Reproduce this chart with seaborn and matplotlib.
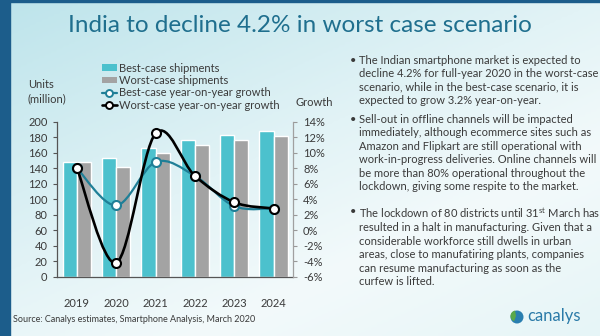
import numpy as np
import pandas as pd
import matplotlib
matplotlib.use("Agg")
import matplotlib.pyplot as plt
import seaborn as sns
from matplotlib.path import Path
from matplotlib.patches import PathPatch, Rectangle, Circle, Patch, Wedge
from matplotlib.lines import Line2D
from matplotlib.colors import LinearSegmentedColormap

# ---------------- data ----------------
years = ["2019", "2020", "2021", "2022", "2023", "2024"]
best_ship = [148, 153, 166, 177, 183, 188]
worst_ship = [148, 142, 159, 170, 177, 182]
best_growth = [8.0, 3.2, 8.8, 7.0, 3.1, 2.8]
worst_growth = [8.0, -4.2, 12.5, 7.0, 3.6, 2.8]
left_ticks = [0, 20, 40, 60, 80, 100, 120, 140, 160, 180, 200]
right_ticks = [-6, -4, -2, 0, 2, 4, 6, 8, 10, 12, 14]
series_names = ["Best-case shipments", "Worst-case shipments",
                "Best-case year-on-year growth", "Worst-case year-on-year growth"]

title = "India to decline 4.2% in worst case scenario"
para1 = ("The Indian smartphone market is expected to\n"
         "decline 4.2% for full-year 2020 in the worst-case\n"
         "scenario, while in the best-case scenario, it is\n"
         "expected to grow 3.2% year-on-year.")
para2 = ("Sell-out in offline channels will be impacted\n"
         "immediately, although ecommerce sites such as\n"
         "Amazon and Flipkart are still operational with\n"
         "work-in-progress deliveries. Online channels will\n"
         "be more than 80% operational throughout the\n"
         "lockdown, giving some respite to the market.")
para3 = ("The lockdown of 80 districts until 31$^{\\mathrm{st}}$ March has\n"
         "resulted in a halt in manufacturing. Given that a\n"
         "considerable workforce still dwells in urban\n"
         "areas, close to manufatiring plants, companies\n"
         "can resume manufacturing as soon as the\n"
         "curfew is lifted.")
source = "Source: Canalys estimates, Smartphone Analysis, March 2020"

# ---------------- style ----------------
sns.set_theme(style="white")
plt.rcParams["font.family"] = ["Lato", "DejaVu Sans"]
plt.rcParams["mathtext.fontset"] = "custom"
plt.rcParams["mathtext.rm"] = "Lato"

BEST_BAR = "#4cc1cd"
WORST_BAR = "#a3a3a3"
BEST_LINE = "#1f7f97"
WORST_LINE = "#000000"
TXT = "#3a3a3a"
TITLE_C = "#1f6f8e"

W, H = 600, 336
fig = plt.figure(figsize=(W / 100, H / 100), dpi=100)

def fx(px):
    return px / W

def fy(py):
    return 1 - py / H

# background gradient
bg = fig.add_axes([0, 0, 1, 1], zorder=-10)
yy, xx = np.mgrid[0:1:120j, 0:1:200j]
t = np.clip(0.55 * yy + 0.45 * xx, 0, 1)
cmap = LinearSegmentedColormap.from_list(
    "bg", [(0, "#bde4eb"), (0.45, "#e2f3f6"), (0.7, "#f3fafb"), (1, "#e6f5f7")])
bg.imshow(t, extent=[0, 1, 0, 1], aspect="auto", cmap=cmap, origin="upper")
bg.set_xlim(0, 1); bg.set_ylim(0, 1)
bg.axis("off")
fig.patches.append(Rectangle((0, 0), fx(10), 1, transform=fig.transFigure,
                             color="#1c5d8b", zorder=5))
fig.patches.append(Rectangle((0, fy(2)), 1, 2 / H, transform=fig.transFigure,
                             color="#1c5d8b", zorder=5))

# ---------------- chart ----------------
ax = fig.add_axes([fx(57.3), fy(276.7), fx(293.3) - fx(57.3), (276.7 - 121.7) / H])
ax.set_facecolor("none")
df = pd.DataFrame({
    "year": years * 2,
    "units": best_ship + worst_ship,
    "scenario": [series_names[0]] * len(years) + [series_names[1]] * len(years),
})
sns.barplot(data=df, x="year", y="units", hue="scenario",
            palette=[BEST_BAR, WORST_BAR], width=0.72, gap=0, saturation=1,
            legend=False, ax=ax, zorder=2)
ax.set_ylim(0, 200)
ax.set_xlim(-0.5, len(years) - 0.5)
ax.set_yticks(left_ticks)
ax.set_xlabel(""); ax.set_ylabel("")
ax.tick_params(axis="y", which="both", left=True, length=3, width=0.8,
               color="#555555", labelsize=8, labelcolor=TXT, pad=4)
ax.tick_params(axis="x", bottom=False, labelsize=8, labelcolor=TXT, pad=9)
for s in ["top", "right"]:
    ax.spines[s].set_visible(False)
ax.spines["left"].set_color("#555555"); ax.spines["left"].set_linewidth(0.9)
ax.spines["bottom"].set_color("#555555"); ax.spines["bottom"].set_linewidth(0.9)

ax2 = ax.twinx()
ax2.set_ylim(-6, 14)
ax2.set_yticks(right_ticks)
ax2.set_yticklabels([f"{v}%" for v in right_ticks])
ax2.tick_params(axis="y", right=True, length=3, width=0.8, color="#999999",
                labelsize=8, labelcolor=TXT, pad=4)
for s in ["top", "left", "bottom"]:
    ax2.spines[s].set_visible(False)
ax2.spines["right"].set_color("#a0a0a0"); ax2.spines["right"].set_linewidth(0.9)
ax2.grid(False); ax.grid(False)

def smooth_path(xs, ys):
    pts = np.column_stack([xs, ys]).astype(float)
    n = len(pts)
    verts = [pts[0]]
    codes = [Path.MOVETO]
    for i in range(n - 1):
        p0 = pts[i - 1] if i > 0 else pts[i]
        p1 = pts[i]
        p2 = pts[i + 1]
        p3 = pts[i + 2] if i + 2 < n else pts[i + 1]
        verts += [p1 + (p2 - p0) / 6, p2 - (p3 - p1) / 6, p2]
        codes += [Path.CURVE4] * 3
    return Path(verts, codes)

xpos = np.arange(len(years))
for vals, col, lw, z in [(best_growth, BEST_LINE, 1.6, 4), (worst_growth, WORST_LINE, 1.9, 5)]:
    ax2.add_patch(PathPatch(smooth_path(xpos, vals), facecolor="none",
                            edgecolor=col, linewidth=lw, zorder=z))
    sns.scatterplot(x=xpos, y=vals, ax=ax2, color="white", edgecolor=col,
                    linewidth=1.5, s=42, zorder=z + 0.5, legend=False)

# axis titles
fig.text(fx(28), fy(85), "Units", fontsize=8, color=TXT, va="center", ha="left")
fig.text(fx(28), fy(99), "(million)", fontsize=8, color=TXT, va="center", ha="left")
fig.text(fx(295), fy(103), "Growth", fontsize=8, color=TXT, va="center", ha="left")

# legend
handles = [
    Patch(facecolor=BEST_BAR, edgecolor="none"),
    Patch(facecolor=WORST_BAR, edgecolor="none"),
    Line2D([], [], color=BEST_LINE, lw=1.6, marker="o", markersize=5,
           markerfacecolor="white", markeredgecolor=BEST_LINE, markeredgewidth=1.4),
    Line2D([], [], color=WORST_LINE, lw=1.9, marker="o", markersize=5,
           markerfacecolor="white", markeredgecolor=WORST_LINE, markeredgewidth=1.4),
]
fig.legend(handles, series_names, loc="upper left",
           bbox_to_anchor=(fx(96), fy(57)), frameon=False, fontsize=8,
           handlelength=1.35, handleheight=0.55, handletextpad=0.2,
           labelspacing=0.12, borderpad=0, labelcolor=TXT)

# title
fig.text(0.5, fy(25), title, fontsize=17.5, color=TITLE_C, ha="center", va="center")

# right-hand text
for ptxt, top in [(para1, 55), (para2, 114), (para3, 206)]:
    fig.text(fx(350), fy(top), "\u2022", fontsize=8, color=TXT, va="top", ha="left")
    fig.text(fx(359), fy(top), ptxt, fontsize=8, color=TXT, va="top", ha="left",
             linespacing=1.27)

# source
fig.text(fx(13), fy(319), source, fontsize=6.5, color=TXT, va="center", ha="left")

# logo (drawn in inch coordinates so the globe stays round)
cx, cy, r = 5.17, (H - 317) / 100, 0.065
fig.patches.append(Circle((cx, cy), r, transform=fig.dpi_scale_trans,
                          facecolor="#2a7fb0", edgecolor="none", zorder=6))
fig.patches.append(Wedge((cx - 0.01, cy + 0.01), r * 0.85, 100, 250,
                         transform=fig.dpi_scale_trans,
                         facecolor="#5aa84a", edgecolor="none", zorder=7))
fig.text(fx(527), fy(316), "canalys", fontsize=12, color="#2a7aa8", va="center", ha="left")

fig.savefig("out.png", dpi=100)
